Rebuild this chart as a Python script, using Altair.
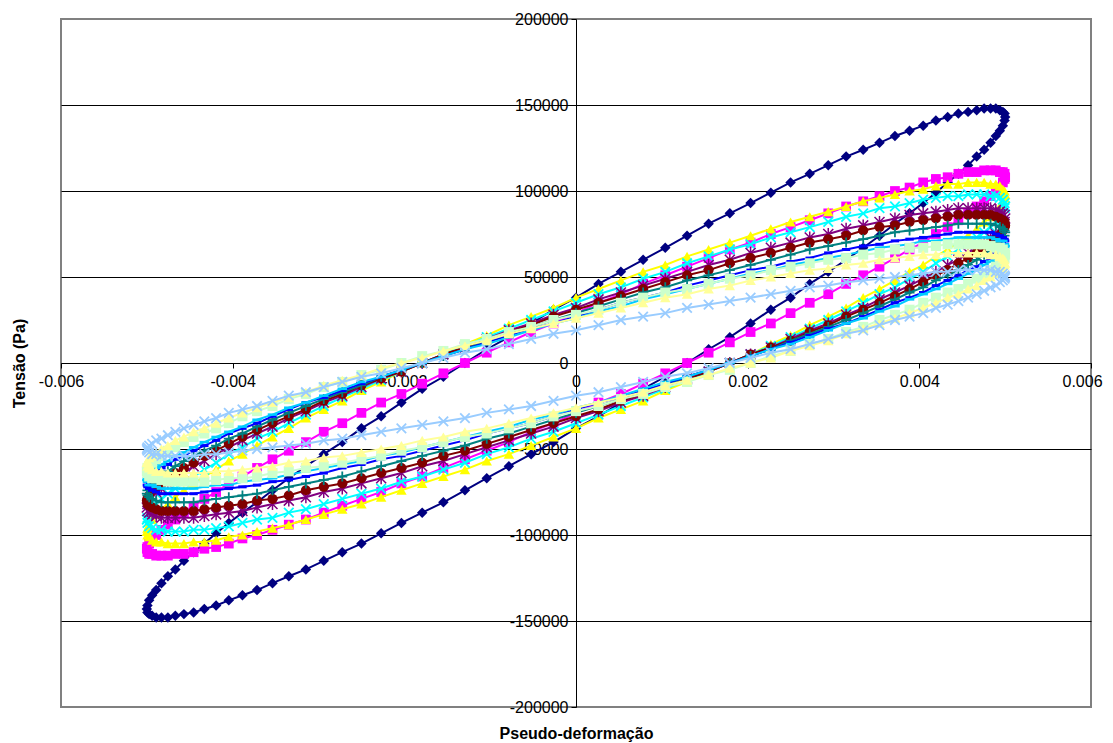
import altair as alt
import pandas as pd

FONT = "Liberation Sans"

# strain in units of 1e-3 (shared sampling of every loop)
strain_milli = [
    0, 0.262, 0.523, 0.782, 1.040, 1.294, 1.545, 1.792, 2.034, 2.270, 2.5, 2.723, 2.939, 3.147, 3.346,
    3.536, 3.716, 3.886, 4.045, 4.193, 4.330, 4.455, 4.568, 4.668, 4.755, 4.830, 4.891, 4.938, 4.973, 4.993, 5.0,
    4.993, 4.973, 4.938, 4.891, 4.830, 4.755, 4.668, 4.568, 4.455, 4.330, 4.193, 4.045, 3.886, 3.716, 3.536,
    3.346, 3.147, 2.939, 2.723, 2.5, 2.270, 2.034, 1.792, 1.545, 1.294, 1.040, 0.782, 0.523, 0.262, 0,
    -0.262, -0.523, -0.782, -1.040, -1.294, -1.545, -1.792, -2.034, -2.270, -2.5, -2.723, -2.939, -3.147, -3.346,
    -3.536, -3.716, -3.886, -4.045, -4.193, -4.330, -4.455, -4.568, -4.668, -4.755, -4.830, -4.891, -4.938, -4.973, -4.993, -5.0,
    -4.993, -4.973, -4.938, -4.891, -4.830, -4.755, -4.668, -4.568, -4.455, -4.330, -4.193, -4.045, -3.886, -3.716, -3.536,
    -3.346, -3.147, -2.939, -2.723, -2.5, -2.270, -2.034, -1.792, -1.545, -1.294, -1.040, -0.782, -0.523, -0.262,
]

# stress in kPa, one list per series
stress_s01 = [38,46,53,60,67,74,81,87,93,99,105,110,115,120,124,128,132,135,138,141,143,145,146,147,148,148,
    148,147,146,145,143,141,138,135,132,128,124,120,115,110,105,99,93,87,81,74,67,60,53,46,38,31,23,15,8,0,
    -8,-15,-23,-31,-38,-46,-53,-60,-67,-74,-81,-87,-93,-99,-105,-110,-115,-120,-124,-128,-132,-135,-138,-141,-143,-145,-146,-147,-148,-148,
    -148,-147,-146,-145,-143,-141,-138,-135,-132,-128,-124,-120,-115,-110,-105,-99,-93,-87,-81,-74,-67,-60,-53,-46,-38,-31,-23,-15,-8,
    0,8,15,23,31]
stress_s02 = [29,35,40,46,51,56,61,66,70,75,79,83,87,91,94,97,100,102,105,107,108,110,111,111,112,112,
    112,111,111,110,108,107,105,102,100,97,94,91,87,83,79,75,70,66,61,56,51,46,40,35,29,23,18,12,6,0,
    -6,-12,-18,-23,-29,-35,-40,-46,-51,-56,-61,-66,-70,-75,-79,-83,-87,-91,-94,-97,-100,-102,-105,-107,-108,-110,-111,-111,-112,-112,
    -112,-111,-111,-110,-108,-107,-105,-102,-100,-97,-94,-91,-87,-83,-79,-75,-70,-66,-61,-56,-51,-46,-40,-35,-29,-23,-18,-12,-6,
    0,6,12,18,23]
stress_s03 = [38,43,48,53,57,62,66,70,74,78,82,85,88,91,94,96,98,100,101,103,104,104,105,105,
    105,104,104,103,101,100,98,96,94,91,88,85,82,78,74,70,66,62,57,53,48,43,38,32,27,22,16,11,5,0,
    -5,-11,-16,-22,-27,-32,-38,-43,-48,-53,-57,-62,-66,-70,-74,-78,-82,-85,-88,-91,-94,-96,-98,-100,-101,-103,-104,-104,-105,-105,
    -105,-104,-104,-103,-101,-100,-98,-96,-94,-91,-88,-85,-82,-78,-74,-70,-66,-62,-57,-53,-48,-43,-38,-32,-27,-22,-16,-11,-5,
    0,5,11,16,22,27,32]
stress_s04 = [35,40,44,49,53,58,62,66,69,73,76,79,82,85,87,90,91,93,95,96,97,97,98,98,
    98,97,97,96,95,93,91,90,87,85,82,79,76,73,69,66,62,58,53,49,44,40,35,30,25,20,15,10,5,0,
    -5,-10,-15,-20,-25,-30,-35,-40,-44,-49,-53,-58,-62,-66,-69,-73,-76,-79,-82,-85,-87,-90,-91,-93,-95,-96,-97,-97,-98,-98,
    -98,-97,-97,-96,-95,-93,-91,-90,-87,-85,-82,-79,-76,-73,-69,-66,-62,-58,-53,-49,-44,-40,-35,-30,-25,-20,-15,-10,-5,
    0,5,10,15,20,25,30]
stress_s05 = [32,37,41,45,49,53,57,60,64,67,70,73,75,78,80,82,84,86,87,88,89,90,90,90,
    90,90,89,88,87,86,84,82,80,78,75,73,70,67,64,60,57,53,49,45,41,37,32,28,23,19,14,9,5,0,
    -5,-9,-14,-19,-23,-28,-32,-37,-41,-45,-49,-53,-57,-60,-64,-67,-70,-73,-75,-78,-80,-82,-84,-86,-87,-88,-89,-90,-90,-90,
    -90,-90,-89,-88,-87,-86,-84,-82,-80,-78,-75,-73,-70,-67,-64,-60,-57,-53,-49,-45,-41,-37,-32,-28,-23,-19,-14,-9,-5,
    0,5,9,14,19,23,28]
stress_s06 = [31,35,39,43,47,51,54,58,61,64,67,70,72,74,77,79,80,82,83,84,85,86,86,86,
    86,86,85,84,83,82,80,79,77,74,72,70,67,64,61,58,54,51,47,43,39,35,31,27,22,18,13,9,5,0,
    -5,-9,-13,-18,-22,-27,-31,-35,-39,-43,-47,-51,-54,-58,-61,-64,-67,-70,-72,-74,-77,-79,-80,-82,-83,-84,-85,-86,-86,-86,
    -86,-86,-85,-84,-83,-82,-80,-79,-77,-74,-72,-70,-67,-64,-61,-58,-54,-51,-47,-43,-39,-35,-31,-27,-22,-18,-13,-9,-5,
    0,5,9,13,18,22,27]
stress_s07 = [29,33,37,41,44,48,51,54,57,60,63,66,68,70,72,74,76,77,78,79,80,81,81,81,
    81,81,80,79,78,77,76,74,72,70,68,66,63,60,57,54,51,48,44,41,37,33,29,25,21,17,13,8,4,0,
    -4,-8,-13,-17,-21,-25,-29,-33,-37,-41,-44,-48,-51,-54,-57,-60,-63,-66,-68,-70,-72,-74,-76,-77,-78,-79,-80,-81,-81,-81,
    -81,-81,-80,-79,-78,-77,-76,-74,-72,-70,-68,-66,-63,-60,-57,-54,-51,-48,-44,-41,-37,-33,-29,-25,-21,-17,-13,-8,-4,
    0,4,8,13,17,21,25]
stress_s08 = [27,31,35,38,41,45,48,51,54,56,59,61,64,66,68,69,71,72,73,74,75,76,76,76,
    76,76,75,74,73,72,71,69,68,66,64,61,59,56,54,51,48,45,41,38,35,31,27,23,20,16,12,8,4,0,
    -4,-8,-12,-16,-20,-23,-27,-31,-35,-38,-41,-45,-48,-51,-54,-56,-59,-61,-64,-66,-68,-69,-71,-72,-73,-74,-75,-76,-76,-76,
    -76,-76,-75,-74,-73,-72,-71,-69,-68,-66,-64,-61,-59,-56,-54,-51,-48,-45,-41,-38,-35,-31,-27,-23,-20,-16,-12,-8,-4,
    0,4,8,12,16,20,23]
stress_s09 = [26,30,33,37,40,43,46,49,52,54,57,59,61,63,65,67,68,69,71,71,72,73,73,73,
    73,73,72,71,71,69,68,67,65,63,61,59,57,54,52,49,46,43,40,37,33,30,26,23,19,15,11,8,4,0,
    -4,-8,-11,-15,-19,-23,-26,-30,-33,-37,-40,-43,-46,-49,-52,-54,-57,-59,-61,-63,-65,-67,-68,-69,-71,-71,-72,-73,-73,-73,
    -73,-73,-72,-71,-71,-69,-68,-67,-65,-63,-61,-59,-57,-54,-52,-49,-46,-43,-40,-37,-33,-30,-26,-23,-19,-15,-11,-8,-4,
    0,4,8,11,15,19,23]
stress_s10 = [28,31,35,38,41,43,46,49,51,54,56,58,60,61,63,64,66,67,67,68,69,69,69,
    69,69,68,67,67,66,64,63,61,60,58,56,54,51,49,46,43,41,38,35,31,28,25,21,18,14,11,7,4,0,
    -4,-7,-11,-14,-18,-21,-25,-28,-31,-35,-38,-41,-43,-46,-49,-51,-54,-56,-58,-60,-61,-63,-64,-66,-67,-67,-68,-69,-69,-69,
    -69,-69,-68,-67,-67,-66,-64,-63,-61,-60,-58,-56,-54,-51,-49,-46,-43,-41,-38,-35,-31,-28,-25,-21,-18,-14,-11,-7,-4,
    0,4,7,11,14,18,21,25]
stress_s11 = [26,29,32,35,38,40,43,45,48,50,52,54,55,57,58,60,61,62,63,63,64,64,64,
    64,64,63,63,62,61,60,58,57,55,54,52,50,48,45,43,40,38,35,32,29,26,23,20,17,13,10,7,3,0,
    -3,-7,-10,-13,-17,-20,-23,-26,-29,-32,-35,-38,-40,-43,-45,-48,-50,-52,-54,-55,-57,-58,-60,-61,-62,-63,-63,-64,-64,-64,
    -64,-64,-63,-63,-62,-61,-60,-58,-57,-55,-54,-52,-50,-48,-45,-43,-40,-38,-35,-32,-29,-26,-23,-20,-17,-13,-10,-7,-3,
    0,3,7,10,13,17,20,23]
stress_s12 = [19,22,25,27,29,32,34,36,38,40,42,44,45,47,48,49,50,51,52,53,53,54,54,54,
    54,54,53,53,52,51,50,49,48,47,45,44,42,40,38,36,34,32,29,27,25,22,19,17,14,11,8,6,3,0,
    -3,-6,-8,-11,-14,-17,-19,-22,-25,-27,-29,-32,-34,-36,-38,-40,-42,-44,-45,-47,-48,-49,-50,-51,-52,-53,-53,-54,-54,-54,
    -54,-54,-53,-53,-52,-51,-50,-49,-48,-47,-45,-44,-42,-40,-38,-36,-34,-32,-29,-27,-25,-22,-19,-17,-14,-11,-8,-6,-3,
    0,3,6,8,11,14,17]

series_names = ["S01", "S02", "S03", "S04", "S05", "S06", "S07", "S08", "S09", "S10", "S11", "S12"]
series_colors = ["#000080", "#FF00FF", "#FFFF00", "#00FFFF", "#800080", "#800000",
                 "#008080", "#0000FF", "#00CCFF", "#CCFFCC", "#FFFF99", "#99CCFF"]
stress_lists = [stress_s01, stress_s02, stress_s03, stress_s04, stress_s05, stress_s06,
                stress_s07, stress_s08, stress_s09, stress_s10, stress_s11, stress_s12]

X_PATH = "M-1,-1L1,1M-1,1L1,-1"
STAR_PATH = "M-1,-1L1,1M-1,1L1,-1M0,-1.2L0,1.2"
PLUS_PATH = "M-1,0L1,0M0,-1L0,1"
DASH_PATH = "M-1,0L1,0"
# (shape, filled, size, strokeWidth)
series_markers = [
    ("diamond", True, 110, 1),
    ("square", True, 95, 1),
    ("triangle-up", True, 110, 1),
    (X_PATH, False, 90, 1.8),
    (STAR_PATH, False, 100, 1.5),
    ("circle", True, 100, 1),
    (PLUS_PATH, False, 100, 1.8),
    (DASH_PATH, False, 70, 3),
    (DASH_PATH, False, 90, 2.5),
    ("square", True, 100, 1),
    ("triangle-up", True, 110, 1),
    (X_PATH, False, 90, 1.8),
]

pt_rows, line_rows = [], []
for name, vals in zip(series_names, stress_lists):
    pts = list(zip(strain_milli, vals))
    for k, (e, s) in enumerate(pts):
        pt_rows.append({"series": name, "k": k, "strain": e / 1000.0, "stress": s * 1000.0})
    for k, (e, s) in enumerate(pts + pts[:1]):
        line_rows.append({"series": name, "k": k, "strain": e / 1000.0, "stress": s * 1000.0})
pt_df = pd.DataFrame(pt_rows)
line_df = pd.DataFrame(line_rows)

x_ticks = [-0.006, -0.004, -0.002, 0, 0.002, 0.004, 0.006]
y_ticks = [-200000, -150000, -100000, -50000, 0, 50000, 100000, 150000, 200000]

x_enc = alt.X(
    "strain:Q",
    scale=alt.Scale(domain=[-0.006, 0.006], nice=False, zero=False),
    axis=alt.Axis(
        values=x_ticks, labelExpr="'' + datum.value", offset=-344, grid=False,
        domainColor="black", domainWidth=1, tickColor="black", tickSize=5, tickWidth=1,
        labelFont=FONT, labelFontSize=16, labelColor="black", labelPadding=5,
        labelOffset={"condition": {"test": "datum.value >= 0.006", "value": -9}, "value": 0},
        labelFlush=False, labelOverlap=False,
        title="Pseudo-deformação", titleFont=FONT, titleFontSize=16, titleFontWeight="bold",
        titleColor="black", titleY=370, titleBaseline="middle",
    ),
)
y_enc = alt.Y(
    "stress:Q",
    scale=alt.Scale(domain=[-200000, 200000], nice=False, zero=False),
    axis=alt.Axis(
        values=y_ticks, labelExpr="'' + datum.value", offset=-515, grid=True,
        gridColor="black", gridWidth=1,
        gridOpacity={"condition": {"test": "abs(datum.value) >= 200000", "value": 0}, "value": 1},
        domainColor="black", domainWidth=1, tickColor="black", tickSize=5, tickWidth=1,
        labelFont=FONT, labelFontSize=16, labelColor="black", labelPadding=3,
        labelOverlap=False,
        title="Tensão (Pa)", titleFont=FONT, titleFontSize=16, titleFontWeight="bold",
        titleColor="black", titleX=-557, titleAngle=270, titleBaseline="middle",
    ),
)

layers = []
for name, color, (shape, filled, size, sw) in zip(series_names, series_colors, series_markers):
    line = alt.Chart(line_df).transform_filter(alt.datum.series == name).mark_line(
        color=color, strokeWidth=2
    ).encode(x=x_enc, y=y_enc, order="k:Q")
    if filled:
        pm = alt.Chart(pt_df).mark_point(
            shape=shape, filled=True, size=size, color=color, opacity=1
        )
    else:
        pm = alt.Chart(pt_df).mark_point(
            shape=shape, filled=False, size=size, color=color, opacity=1, strokeWidth=sw
        )
    pts_layer = pm.transform_filter(alt.datum.series == name).encode(x=x_enc, y=y_enc)
    layers.extend([line, pts_layer])

chart = alt.LayerChart(layer=layers).properties(
    width=1030,
    height=688,
    padding={"left": 53, "top": 11, "right": 14, "bottom": 35},
    autosize=alt.AutoSizeParams(type="none"),
    background="white",
).configure_view(stroke="#808080", strokeWidth=2)

chart.save("out.html", embed_options={"renderer": "svg", "actions": False})
